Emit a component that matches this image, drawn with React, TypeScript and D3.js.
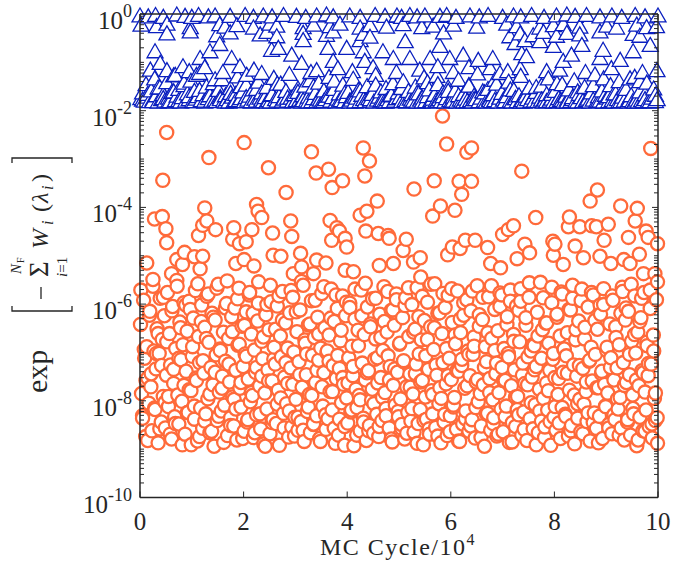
import React from 'react';
import * as d3 from 'd3';

const W = 674;
const H = 566;

const xTicks = [0, 2, 4, 6, 8, 10];
const yTickExponents = [0, -2, -4, -6, -8, -10];
const xLabelMain = 'MC Cycle/10';
const xLabelExp = '4';

// MC cycle spacing (in 10^4 cycles) between samples of the bulk arrays
const CIRCLE_BULK_A_STEP = 0.02;
const CIRCLE_BULK_B_STEP = 1 / 30;
const TRIANGLE_BULK_A_STEP = 1 / 30;
const TRIANGLE_BULK_B_STEP = 0.1;

// sparse high circles: [MC cycle / 1e4, log10 value]
const circleSparse: [number, number][] = [
  [0.13, -5.15], [0.28, -4.24], [0.43, -4.19], [0.44, -3.44], [0.5, -4.44], [0.515, -2.45], [0.515, -4.73],
  [0.61, -5.37], [0.71, -5.08], [0.82, -5.18], [0.86, -4.93], [1.05, -5.02], [1.13, -4.58], [1.16, -5.27],
  [1.21, -4.37], [1.21, -5.01], [1.25, -4.01], [1.29, -4.28], [1.33, -2.97], [1.46, -4.46], [1.79, -4.66],
  [1.81, -4.42], [1.85, -5.16], [1.92, -4.75], [2.01, -2.66], [2.01, -5.08], [2.05, -4.71], [2.16, -4.46],
  [2.2, -5.21], [2.25, -3.94], [2.28, -4.08], [2.35, -4.21], [2.48, -3.18], [2.56, -4.53], [2.57, -4.99],
  [2.72, -5.01], [2.82, -3.69], [2.91, -4.28], [2.93, -4.6], [2.96, -5.37], [3.1, -4.95], [3.12, -5.23],
  [3.31, -2.85], [3.35, -5.37], [3.4, -3.29], [3.41, -5.09], [3.59, -5.15], [3.64, -3.21], [3.67, -4.27],
  [3.7, -4.68], [3.71, -3.59], [3.8, -4.42], [3.85, -4.49], [3.91, -3.45], [3.96, -4.64], [3.96, -5.3],
  [3.99, -4.82], [4.12, -5.33], [4.25, -4.16], [4.31, -2.77], [4.34, -3.35], [4.36, -4.49], [4.38, -4.08],
  [4.43, -3.04], [4.58, -3.87], [4.6, -4.54], [4.62, -5.2], [4.79, -4.58], [4.81, -4.64], [4.89, -5.16],
  [5.08, -4.89], [5.14, -4.66], [5.28, -5.13], [5.29, -3.62], [5.41, -5.04], [5.42, -5.44], [5.65, -4.18],
  [5.68, -3.45], [5.8, -3.97], [5.84, -2.11], [5.92, -2.69], [5.94, -4.98], [6.03, -4.82], [6.08, -4.06],
  [6.16, -3.46], [6.18, -4.85], [6.21, -3.73], [6.28, -4.68], [6.31, -2.86], [6.4, -2.77], [6.4, -3.46],
  [6.47, -4.68], [6.71, -4.83], [6.77, -5.16], [6.96, -5.25], [7.0, -4.56], [7.11, -4.46], [7.21, -4.38],
  [7.28, -5.06], [7.37, -3.25], [7.43, -4.76], [7.52, -4.94], [7.64, -4.21], [7.97, -4.7], [7.98, -4.99],
  [8.01, -4.76], [8.17, -5.18], [8.27, -4.4], [8.29, -4.2], [8.4, -4.8], [8.49, -4.4], [8.56, -5.04],
  [8.69, -3.87], [8.72, -4.38], [8.81, -4.4], [8.83, -3.64], [8.88, -5.01], [8.96, -4.68], [9.04, -4.35],
  [9.09, -5.16], [9.28, -3.97], [9.34, -5.08], [9.43, -4.62], [9.46, -5.16], [9.56, -4.28], [9.6, -4.02],
  [9.64, -4.97], [9.72, -5.37], [9.77, -4.49], [9.81, -4.62], [9.86, -2.78], [9.94, -5.37], [9.99, -4.75],
  [9.99, -5.54],
];

// bulk circles, log10 value, one every CIRCLE_BULK_A_STEP
const circleBulkA = [
  -6.42, -7.85, -8.31, -5.92, -7.12, -8.74, -6.88, -7.53, -8.05, -6.15,
  -7.71, -8.62, -5.63, -6.97, -8.18, -7.34, -6.51, -8.87, -7.02, -5.88,
  -8.44, -6.73, -7.91, -6.24, -8.56, -7.47, -5.76, -8.12, -6.61, -7.26,
  -8.79, -6.05, -7.64, -8.33, -6.92, -5.51, -7.88, -8.48, -6.37, -7.15,
  -8.01, -6.84, -5.97, -8.69, -7.39, -6.56, -8.24, -7.77, -6.11, -8.91,
  -7.08, -6.29, -8.38, -5.72, -7.58, -8.83, -6.67, -7.21, -8.15, -6.02,
  -8.57, -7.43, -6.48, -8.27, -5.84, -7.96, -6.79, -8.66, -7.31, -6.19,
  -7.67, -8.94, -6.33, -7.05, -8.41, -5.59, -7.82, -6.93, -8.21, -7.49,
  -6.58, -8.09, -7.18, -5.99, -8.72, -6.71, -7.61, -8.35, -6.26, -7.92,
  -8.52, -6.08, -7.37, -8.81, -6.85, -5.67, -7.74, -8.13, -6.46, -7.29,
  -8.63, -7.03, -6.16, -8.44, -7.55, -5.81, -8.02, -6.62, -7.89, -8.76,
  -6.95, -7.41, -8.29, -6.35, -5.54, -7.69, -8.58, -6.77, -7.13, -8.89,
  -7.84, -6.22, -8.17, -7.36, -6.53, -8.68, -5.95, -7.59, -8.39, -6.89,
  -7.24, -8.47, -6.04, -7.78, -8.92, -6.66, -7.09, -5.74, -8.26, -7.51,
  -6.39, -8.06, -7.64, -8.75, -6.18, -7.32, -8.54, -5.86, -6.99, -8.34,
  -7.97, -6.57, -8.61, -7.19, -6.12, -8.43, -7.72, -5.61, -8.84, -6.81,
  -7.46, -8.22, -6.43, -7.87, -8.66, -5.93, -7.06, -8.49, -6.69, -7.62,
  -8.31, -6.27, -7.16, -8.78, -6.91, -5.78, -8.11, -7.42, -6.49, -8.59,
  -7.01, -8.37, -6.64, -7.81, -5.69, -8.19, -7.27, -6.36, -8.88, -7.54,
  -6.09, -8.71, -7.33, -6.76, -8.04, -5.83, -7.66, -8.53, -6.24, -7.94,
  -8.46, -7.11, -5.98, -8.23, -6.87, -7.48, -8.93, -6.31, -7.76, -8.14,
  -6.54, -7.89, -8.62, -5.71, -7.22, -8.36, -6.63, -7.57, -8.82, -6.06,
  -7.38, -8.51, -6.41, -7.99, -5.89, -8.67, -7.14, -6.72, -8.28, -7.63,
  -8.74, -6.21, -7.52, -8.41, -6.96, -5.64, -7.83, -8.16, -6.58, -7.07,
  -8.56, -7.29, -6.13, -8.85, -7.68, -6.44, -8.09, -5.79, -7.41, -8.33,
  -6.83, -7.96, -8.57, -6.28, -7.17, -8.79, -5.87, -7.71, -8.24, -6.67,
  -7.45, -8.42, -6.01, -7.86, -8.65, -6.52, -7.24, -5.66, -8.47, -7.03,
  -8.18, -6.74, -7.58, -8.91, -6.34, -7.92, -8.38, -5.96, -7.35, -8.69,
  -6.47, -7.79, -8.27, -6.94, -5.58, -8.55, -7.47, -6.19, -8.06, -7.73,
  -8.87, -6.61, -7.21, -8.44, -6.07, -7.65, -8.72, -5.82, -7.12, -8.31,
  -7.56, -6.38, -8.13, -7.93, -6.82, -8.59, -5.73, -7.39, -8.84, -6.59,
  -7.27, -8.48, -6.23, -7.74, -8.21, -5.91, -6.97, -8.63, -7.48, -6.14,
  -8.39, -7.04, -6.68, -8.77, -7.61, -5.62, -8.02, -6.46, -7.85, -8.52,
  -6.32, -7.67, -8.94, -6.88, -7.19, -8.26, -5.85, -7.54, -8.61, -6.71,
  -7.98, -8.35, -6.11, -7.44, -8.73, -6.55, -7.83, -5.77, -8.17, -7.31,
  -8.64, -6.92, -7.58, -8.11, -6.26, -7.02, -8.86, -5.94, -7.69, -8.45,
  -6.63, -7.36, -8.53, -6.04, -7.91, -8.29, -6.78, -5.68, -8.71, -7.22,
  -8.23, -7.64, -6.44, -8.82, -7.09, -5.86, -8.37, -6.97, -7.51, -8.58,
  -6.86, -8.08, -7.29, -6.17, -8.66, -7.76, -5.55, -8.42, -6.53, -7.95,
  -8.76, -6.39, -7.63, -8.19, -6.81, -7.37, -8.92, -5.97, -7.14, -8.34,
  -7.52, -8.61, -6.27, -7.87, -8.46, -6.66, -5.75, -8.14, -7.41, -6.93,
  -8.28, -7.07, -6.59, -8.73, -7.78, -6.12, -8.51, -5.88, -7.26, -8.89,
  -6.74, -7.49, -8.36, -6.35, -7.97, -8.64, -5.69, -7.33, -8.07, -6.48,
  -7.81, -8.43, -6.06, -7.18, -8.83, -6.89, -7.59, -5.81, -8.25, -7.04,
  -8.57, -6.52, -7.73, -8.32, -6.21, -7.44, -8.78, -6.01, -7.66, -8.12,
  -6.96, -7.84, -8.49, -6.41, -7.11, -8.68, -5.92, -7.57, -8.39, -6.69,
  -7.32, -8.17, -6.84, -7.93, -8.56, -5.65, -7.21, -8.81, -6.33, -7.62,
  -8.44, -6.15, -7.46, -8.71, -6.77, -7.88, -8.27, -5.83, -7.01, -8.93,
  -6.58, -7.69, -8.34, -6.28, -7.38, -8.62, -5.76, -7.82, -8.19, -6.86,
  -7.48, -8.53, -6.09, -7.24, -8.77, -6.64, -7.95, -8.41, -5.91, -8.88,
];

// second pass of bulk circles, one every CIRCLE_BULK_B_STEP
const circleBulkB = [
  -5.71, -8.36, -6.94, -7.58, -8.82, -6.23, -7.44, -5.49, -8.15, -7.02,
  -6.61, -8.58, -7.27, -5.86, -8.03, -6.78, -7.91, -8.69, -6.14, -7.35,
  -8.47, -5.63, -7.12, -6.49, -8.91, -7.68, -6.02, -8.24, -5.94, -7.79,
  -6.88, -8.11, -7.53, -5.58, -8.74, -6.36, -7.17, -8.42, -6.71, -5.79,
  -7.86, -8.63, -6.27, -7.41, -5.67, -8.32, -6.96, -7.74, -8.86, -6.08,
  -5.52, -7.24, -8.51, -6.57, -7.97, -8.17, -5.89, -6.83, -7.62, -8.78,
  -6.44, -7.08, -8.39, -5.76, -7.83, -6.19, -8.66, -7.31, -5.98, -8.27,
  -7.49, -6.68, -8.94, -6.01, -7.59, -5.61, -8.45, -7.14, -6.52, -8.07,
  -5.83, -7.94, -6.33, -8.56, -7.21, -6.91, -8.21, -5.72, -7.66, -8.73,
  -6.16, -8.34, -7.46, -5.53, -8.61, -6.74, -7.03, -8.13, -6.41, -7.89,
  -8.48, -5.92, -7.37, -6.62, -8.84, -7.71, -5.64, -8.29, -6.97, -7.18,
  -6.29, -7.81, -8.57, -5.81, -7.06, -8.38, -6.54, -7.52, -8.92, -5.96,
  -7.63, -6.07, -8.19, -7.29, -5.69, -8.71, -6.86, -7.98, -6.24, -8.44,
  -5.57, -7.42, -8.62, -6.47, -7.76, -8.06, -5.88, -7.11, -8.53, -6.69,
  -7.93, -6.36, -8.31, -5.74, -7.57, -8.79, -6.12, -7.34, -5.91, -8.22,
  -6.81, -8.49, -7.19, -6.03, -8.67, -5.66, -7.72, -8.16, -6.58, -7.44,
  -8.88, -6.26, -7.61, -5.84, -8.41, -7.07, -6.73, -8.58, -5.59, -7.87,
  -6.49, -7.26, -8.73, -6.18, -7.95, -5.78, -8.28, -6.92, -7.48, -8.64,
  -5.68, -8.09, -6.64, -7.38, -8.83, -6.31, -7.14, -5.97, -8.37, -7.69,
  -7.04, -8.52, -5.73, -6.87, -8.14, -7.56, -6.22, -8.76, -5.86, -7.31,
  -8.26, -6.59, -7.83, -5.62, -8.47, -6.96, -7.22, -8.69, -6.05, -5.81,
  -7.58, -8.33, -6.42, -7.09, -5.71, -8.85, -6.77, -7.92, -8.18, -6.13,
  -5.94, -7.47, -8.59, -6.28, -7.67, -5.56, -8.04, -6.84, -7.36, -8.91,
  -6.66, -8.21, -7.12, -5.87, -8.54, -6.39, -7.79, -8.43, -5.65, -7.02,
  -8.12, -6.21, -7.54, -8.78, -5.79, -6.94, -8.32, -7.43, -6.11, -8.62,
  -5.61, -7.88, -6.53, -8.06, -7.27, -5.93, -8.68, -6.72, -7.61, -8.25,
  -7.16, -5.76, -8.45, -6.34, -7.73, -8.87, -6.02, -7.39, -5.68, -8.11,
  -6.89, -8.56, -7.31, -5.83, -8.29, -6.47, -7.96, -8.71, -6.19, -5.74,
  -7.68, -6.08, -8.39, -7.04, -5.59, -8.16, -6.63, -7.57, -8.81, -6.36,
  -5.88, -7.42, -8.63, -6.79, -7.23, -5.71, -8.48, -6.97, -7.84, -8.35,
];

// sparse upper triangles: [MC cycle / 1e4, log10 value]
const triangleSparse: [number, number][] = [
  [0.0, -0.03], [0.16, -0.05], [0.3, -0.02], [0.45, -0.06], [0.71, -0.01], [0.87, -0.04], [1.0, -0.06],
  [1.13, -0.02], [1.32, -0.05], [1.45, -0.03], [1.74, -0.04], [2.03, -0.02], [2.19, -0.06], [2.38, -0.03],
  [2.55, -0.05], [2.77, -0.02], [3.02, -0.04], [3.2, -0.06], [3.41, -0.03], [3.6, -0.01], [3.73, -0.05],
  [4.05, -0.03], [4.25, -0.06], [4.54, -0.02], [4.73, -0.04], [4.96, -0.03], [5.05, -0.06], [5.21, -0.02],
  [5.35, -0.05], [5.5, -0.03], [5.79, -0.04], [5.92, -0.02], [6.1, -0.06], [6.37, -0.03], [6.55, -0.05],
  [6.72, -0.02], [7.0, -0.06], [7.21, -0.03], [7.35, -0.05], [7.56, -0.02], [7.8, -0.06], [8.04, -0.03],
  [8.24, -0.01], [8.4, -0.04], [8.62, -0.02], [8.88, -0.05], [9.11, -0.03], [9.3, -0.06], [9.56, -0.02],
  [9.75, -0.05], [10.0, -0.03],
  [0.02, -0.22], [0.32, -0.25], [0.52, -0.2], [0.97, -0.27], [1.54, -0.21], [1.64, -0.26], [1.87, -0.23],
  [2.19, -0.28], [2.51, -0.2], [2.64, -0.24], [3.15, -0.27], [3.35, -0.22], [3.67, -0.25], [3.86, -0.2],
  [4.25, -0.28], [4.44, -0.23], [4.76, -0.26], [5.08, -0.21], [5.44, -0.27], [5.66, -0.24], [6.05, -0.22],
  [6.5, -0.26], [7.08, -0.2], [7.27, -0.25], [7.72, -0.28], [7.98, -0.23], [8.17, -0.21], [8.49, -0.26],
  [9.01, -0.24], [9.2, -0.28], [9.59, -0.22], [9.78, -0.27], [9.97, -0.25],
  [0.52, -0.4], [0.97, -0.36], [1.48, -0.44], [1.74, -0.38], [2.32, -0.42], [2.45, -0.37], [2.64, -0.46],
  [3.15, -0.39], [3.6, -0.43], [3.73, -0.36], [4.31, -0.41], [4.44, -0.47], [5.86, -0.38], [7.14, -0.46],
  [7.34, -0.4], [7.59, -0.44], [7.79, -0.37], [8.04, -0.45], [8.24, -0.39], [8.49, -0.42], [8.88, -0.36],
  [9.52, -0.41], [9.65, -0.45],
  [0.29, -0.77], [0.39, -1.01], [0.52, -1.16], [0.68, -1.26], [0.83, -1.08], [1.09, -1.26], [1.16, -0.91],
  [1.35, -0.77], [1.54, -0.62], [1.77, -0.91], [1.93, -1.08], [2.06, -1.26], [2.54, -0.74], [2.67, -0.7],
  [2.93, -0.84], [3.12, -1.01], [3.15, -0.54], [3.41, -1.16], [3.63, -0.7], [3.73, -0.97], [3.82, -1.12],
  [3.99, -0.7], [4.25, -0.54], [4.31, -0.77], [4.34, -0.97], [4.69, -0.77], [4.89, -0.91], [5.12, -0.56],
  [5.21, -0.91], [5.6, -0.91], [5.73, -1.28], [5.75, -1.08], [5.79, -0.66], [5.98, -0.91], [6.24, -0.84],
  [6.53, -0.95], [6.76, -1.12], [6.81, -0.91], [7.24, -0.6], [7.34, -1.12], [7.37, -0.81], [7.43, -0.54],
  [7.46, -0.87], [7.72, -0.56], [7.85, -1.18], [7.98, -0.66], [8.17, -0.97], [8.33, -0.84], [8.53, -0.64],
  [8.88, -0.91], [8.94, -0.74], [8.95, -1.33], [9.27, -0.95], [9.46, -1.33], [9.52, -0.77], [9.85, -0.64],
  [9.98, -1.16],
  [0.2, -1.15], [0.95, -1.18], [1.25, -1.1], [1.6, -1.2], [2.2, -1.15], [2.35, -1.22], [3.3, -1.2],
  [4.1, -1.18], [4.5, -1.1], [4.95, -1.2], [5.4, -1.15], [6.05, -1.2], [6.35, -1.1], [6.95, -1.22],
  [7.1, -1.18], [8.1, -1.15], [8.6, -1.2], [9.1, -1.12], [9.7, -1.2],
];

// bulk triangles near 10^-2, log10 value, one every TRIANGLE_BULK_A_STEP
const triangleBulkA = [
  -1.74, -1.62, -1.79, -1.45, -1.71, -1.8, -1.58, -1.77, -1.33, -1.68,
  -1.81, -1.52, -1.76, -1.66, -1.79, -1.41, -1.73, -1.8, -1.61, -1.27,
  -1.78, -1.69, -1.55, -1.81, -1.72, -1.47, -1.79, -1.64, -1.76, -1.38,
  -1.8, -1.59, -1.75, -1.7, -1.22, -1.78, -1.66, -1.81, -1.5, -1.74,
  -1.63, -1.79, -1.43, -1.77, -1.8, -1.57, -1.72, -1.35, -1.79, -1.68,
  -1.76, -1.81, -1.53, -1.71, -1.8, -1.65, -1.29, -1.78, -1.74, -1.6,
  -1.8, -1.46, -1.77, -1.69, -1.81, -1.56, -1.75, -1.79, -1.4, -1.73,
  -1.62, -1.8, -1.72, -1.51, -1.78, -1.81, -1.67, -1.32, -1.76, -1.79,
  -1.7, -1.44, -1.81, -1.75, -1.59, -1.79, -1.24, -1.73, -1.8, -1.66,
  -1.78, -1.54, -1.77, -1.81, -1.68, -1.48, -1.79, -1.71, -1.37, -1.8,
  -1.74, -1.63, -1.8, -1.42, -1.77, -1.81, -1.58, -1.76, -1.69, -1.3,
  -1.79, -1.72, -1.55, -1.81, -1.75, -1.64, -1.78, -1.46, -1.8, -1.7,
  -1.61, -1.79, -1.77, -1.34, -1.81, -1.73, -1.57, -1.8, -1.67, -1.76,
  -1.8, -1.49, -1.74, -1.79, -1.65, -1.81, -1.26, -1.77, -1.71, -1.6,
  -1.78, -1.81, -1.53, -1.76, -1.8, -1.68, -1.43, -1.79, -1.74, -1.62,
  -1.72, -1.8, -1.39, -1.78, -1.81, -1.59, -1.75, -1.66, -1.79, -1.5,
  -1.81, -1.64, -1.77, -1.73, -1.31, -1.8, -1.7, -1.56, -1.78, -1.81,
  -1.67, -1.79, -1.45, -1.76, -1.8, -1.62, -1.81, -1.74, -1.52, -1.78,
  -1.8, -1.71, -1.58, -1.81, -1.36, -1.77, -1.79, -1.65, -1.75, -1.8,
  -1.47, -1.78, -1.81, -1.69, -1.76, -1.23, -1.8, -1.73, -1.6, -1.79,
  -1.81, -1.55, -1.75, -1.8, -1.66, -1.78, -1.44, -1.81, -1.72, -1.63,
  -1.77, -1.8, -1.7, -1.4, -1.79, -1.81, -1.57, -1.74, -1.8, -1.68,
  -1.28, -1.78, -1.81, -1.64, -1.76, -1.52, -1.8, -1.73, -1.79, -1.61,
  -1.8, -1.71, -1.48, -1.81, -1.77, -1.66, -1.33, -1.79, -1.75, -1.81,
  -1.59, -1.8, -1.74, -1.78, -1.45, -1.81, -1.69, -1.77, -1.56, -1.8,
  -1.76, -1.37, -1.79, -1.81, -1.65, -1.72, -1.8, -1.51, -1.78, -1.74,
  -1.81, -1.62, -1.77, -1.25, -1.8, -1.7, -1.79, -1.58, -1.81, -1.67,
  -1.73, -1.8, -1.47, -1.78, -1.81, -1.64, -1.76, -1.39, -1.8, -1.71,
  -1.79, -1.55, -1.81, -1.74, -1.68, -1.8, -1.3, -1.77, -1.81, -1.6,
  -1.78, -1.8, -1.66, -1.42, -1.79, -1.81, -1.73, -1.54, -1.8, -1.76,
];

// second pass of bulk triangles, one every TRIANGLE_BULK_B_STEP
const triangleBulkB = [
  -1.77, -1.65, -1.8, -1.52, -1.74, -1.81, -1.6, -1.78, -1.42, -1.7,
  -1.8, -1.57, -1.79, -1.68, -1.35, -1.76, -1.81, -1.63, -1.78, -1.49,
  -1.72, -1.8, -1.55, -1.77, -1.81, -1.66, -1.44, -1.79, -1.73, -1.8,
  -1.61, -1.78, -1.81, -1.5, -1.75, -1.8, -1.69, -1.38, -1.79, -1.64,
  -1.81, -1.71, -1.58, -1.8, -1.76, -1.46, -1.79, -1.81, -1.67, -1.74,
  -1.53, -1.8, -1.77, -1.63, -1.81, -1.41, -1.75, -1.79, -1.7, -1.59,
  -1.79, -1.68, -1.81, -1.48, -1.76, -1.8, -1.62, -1.78, -1.36, -1.73,
  -1.8, -1.56, -1.74, -1.81, -1.69, -1.79, -1.51, -1.77, -1.8, -1.65,
  -1.43, -1.78, -1.81, -1.72, -1.6, -1.8, -1.75, -1.47, -1.79, -1.81,
  -1.7, -1.64, -1.8, -1.54, -1.78, -1.81, -1.39, -1.76, -1.8, -1.67,
];

const AXIS = '#262626';
const ORANGE = '#ff6a3a';
const BLUE = '#0a1fbf';
const SERIF = '"Liberation Serif", "Times New Roman", serif';

const PLOT = { left: 140, right: 658, top: 14, bottom: 497.5 };

export default function App() {
  const x = d3.scaleLinear().domain([0, 10]).range([PLOT.left, PLOT.right]);
  const y = d3.scaleLog().domain([1e-10, 1]).range([PLOT.bottom, PLOT.top]);

  const circles = [
    ...circleSparse.map(([c, l]) => ({ c, v: Math.pow(10, l) })),
    ...circleBulkA.map((l, i) => ({ c: (i + 0.5) * CIRCLE_BULK_A_STEP, v: Math.pow(10, l) })),
    ...circleBulkB.map((l, i) => ({ c: (i + 0.5) * CIRCLE_BULK_B_STEP, v: Math.pow(10, l) })),
  ].sort((a, b) => a.c - b.c);

  const triangles = [
    ...triangleSparse.map(([c, l]) => ({ c, v: Math.pow(10, l) })),
    ...triangleBulkA.map((l, i) => ({ c: (i + 0.5) * TRIANGLE_BULK_A_STEP, v: Math.pow(10, l) })),
    ...triangleBulkB.map((l, i) => ({ c: (i + 0.5) * TRIANGLE_BULK_B_STEP, v: Math.pow(10, l) })),
  ].sort((a, b) => a.c - b.c);

  const triPath = 'M0,-7.5 L8,6.5 L-8,6.5 Z';

  const majorLen = 6;
  const minorLen = 4;
  const minorTicks: number[] = [];
  for (let e = -10; e < 0; e++) {
    for (let k = 1; k <= 9; k++) {
      if (k === 1 && e % 2 === 0) continue;
      minorTicks.push(k * Math.pow(10, e));
    }
  }

  return (
    <svg width={W} height={H} style={{ position: 'absolute', left: 0, top: 0, background: '#fff' }}>
      <rect x={0} y={0} width={W} height={H} fill="#fff" />

      <g>
        {circles.map((d, i) => (
          <circle key={'c' + i} cx={x(d.c)} cy={y(d.v)} r={6.6} fill="#fff" stroke={ORANGE} strokeWidth={2.3} />
        ))}
      </g>
      <g>
        {triangles.map((d, i) => (
          <path key={'t' + i} d={triPath} transform={`translate(${x(d.c)},${y(d.v)})`} fill="#fff" stroke={BLUE} strokeWidth={1.3} />
        ))}
      </g>

      <g stroke={AXIS} strokeWidth={1.5} fill="none">
        <line x1={PLOT.left} x2={PLOT.left} y1={PLOT.top} y2={PLOT.bottom} />
        <line x1={PLOT.right} x2={PLOT.right} y1={PLOT.top} y2={PLOT.bottom} />
        <line x1={PLOT.left} x2={PLOT.right} y1={PLOT.bottom} y2={PLOT.bottom} />
        <line x1={PLOT.left} x2={PLOT.right} y1={PLOT.top} y2={PLOT.top} />
      </g>
      <g stroke={AXIS} strokeWidth={1}>
        {xTicks.map((t) => (
          <g key={'xt' + t}>
            <line x1={x(t)} x2={x(t)} y1={PLOT.bottom} y2={PLOT.bottom - majorLen} />
            <line x1={x(t)} x2={x(t)} y1={PLOT.top} y2={PLOT.top + majorLen} />
          </g>
        ))}
        {yTickExponents.map((e) => (
          <g key={'yt' + e}>
            <line x1={PLOT.left} x2={PLOT.left + majorLen} y1={y(Math.pow(10, e))} y2={y(Math.pow(10, e))} />
            <line x1={PLOT.right} x2={PLOT.right - majorLen} y1={y(Math.pow(10, e))} y2={y(Math.pow(10, e))} />
          </g>
        ))}
        {minorTicks.map((v, i) => (
          <g key={'ym' + i}>
            <line x1={PLOT.left} x2={PLOT.left + minorLen} y1={y(v)} y2={y(v)} />
            <line x1={PLOT.right} x2={PLOT.right - minorLen} y1={y(v)} y2={y(v)} />
          </g>
        ))}
      </g>

      <g fontFamily={SERIF} fill={AXIS}>
        {xTicks.map((t) => (
          <text key={'xl' + t} x={x(t)} y={530} fontSize={25} textAnchor="middle">{t}</text>
        ))}
        {yTickExponents.map((e) => (
          <text key={'yl' + e} x={132} y={y(Math.pow(10, e)) + 15} fontSize={25} textAnchor="end">
            10<tspan fontSize={18} dy={-12}>{String(e)}</tspan>
          </text>
        ))}
      </g>

      <text x={398} y={555} fontFamily={SERIF} fontSize={24} letterSpacing={1.5} textAnchor="middle" fill={AXIS}>
        {xLabelMain}<tspan fontSize={16} dy={-10}>{xLabelExp}</tspan>
      </text>

      <g transform="translate(0,280) rotate(-90)" fontFamily={SERIF} fill={AXIS}>
        <text x={-113} y={47} fontSize={30}>exp</text>
        <path d="M-26,12 H-31 V72 H-26" fill="none" stroke={AXIS} strokeWidth={1.3} />
        <line x1={-19} x2={-7} y1={41} y2={41} stroke={AXIS} strokeWidth={1.3} />
        <text x={3} y={48} fontSize={27}>Σ</text>
        <text x={6} y={21} fontSize={15} fontStyle="italic">N</text>
        <text x={17} y={24} fontSize={10}>F</text>
        <text x={3} y={67} fontSize={15}><tspan fontStyle="italic">i</tspan>=1</text>
        <text x={31} y={48} fontSize={24} fontStyle="italic">W</text>
        <text x={55} y={53} fontSize={16} fontStyle="italic">i</text>
        <text x={68} y={48} fontSize={24}>(</text>
        <text x={77} y={48} fontSize={24} fontStyle="italic">λ</text>
        <text x={90} y={53} fontSize={16} fontStyle="italic">i</text>
        <text x={98} y={48} fontSize={24}>)</text>
        <path d="M117,12 H122 V72 H117" fill="none" stroke={AXIS} strokeWidth={1.3} />
      </g>
    </svg>
  );
}
